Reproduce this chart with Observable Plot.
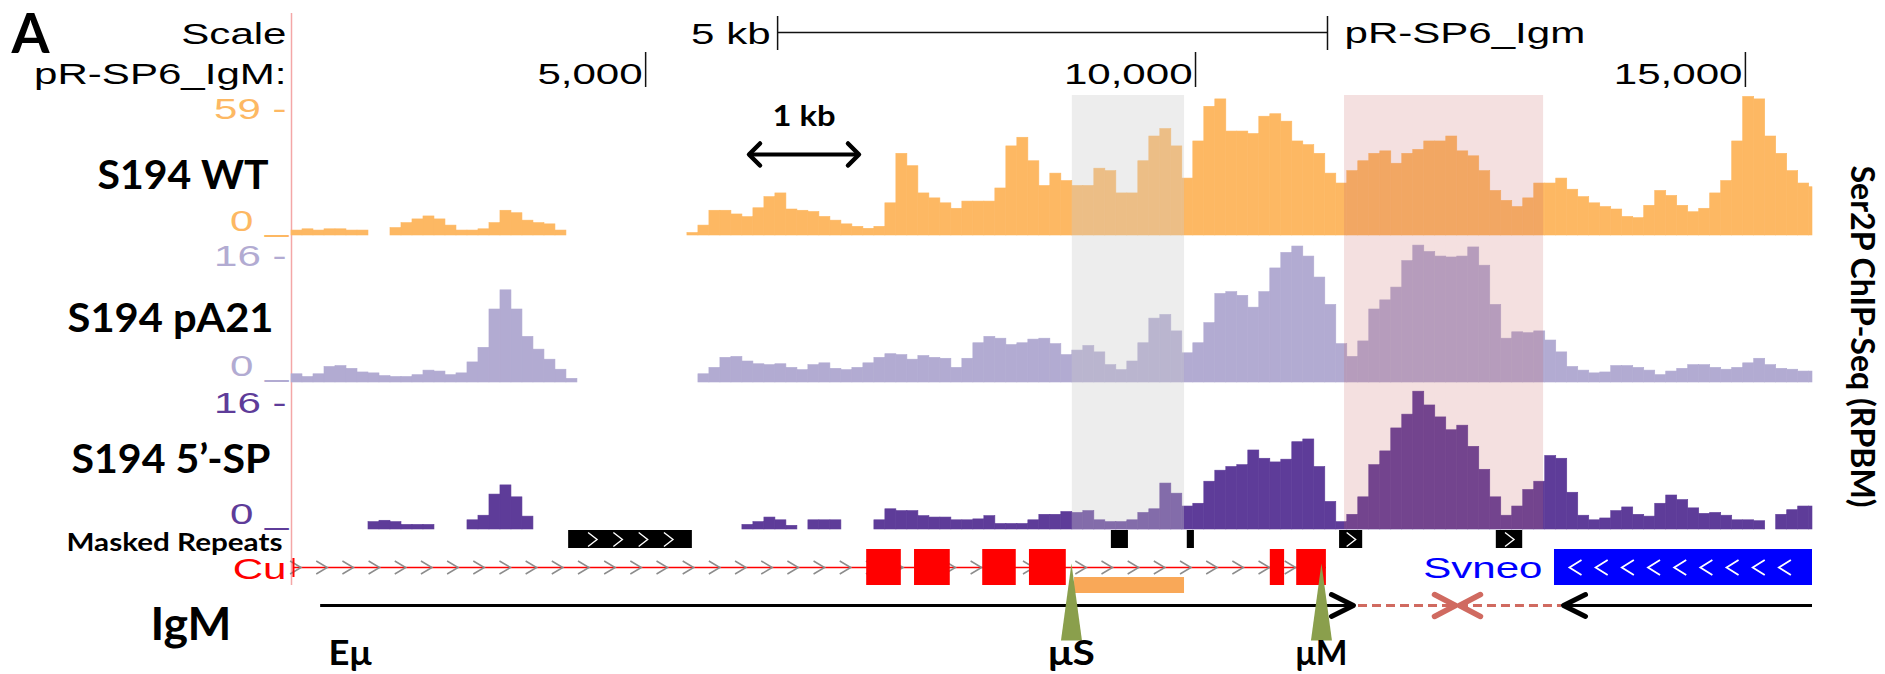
<!DOCTYPE html>
<html>
<head>
<meta charset="utf-8">
<script src="https://cdn.jsdelivr.net/npm/d3@7"></script>
<script src="https://cdn.jsdelivr.net/npm/@observablehq/plot@0.6"></script>
<style>
  html, body { margin: 0; padding: 0; background: #fff; }
  #figure { position: relative; width: 1885px; height: 674px; overflow: hidden; background: #fff; }
  #figure .layer { position: absolute; left: 0; }
  #figure svg { display: block; overflow: visible; }
</style>
</head>
<body>
<div id="figure"></div>
<script>
// ---- view on pR-SP6_IgM (bp) ----
const viewStart = 1780;
const viewEnd = 15610;
const binStart = 1780;
const binSize = 100;

// Ser2P ChIP-Seq signal (RPBM), one value per 100-bp bin; null = no coverage
const wtSignal = [
  2, 2.5, 2, 2.5, 2.5, 2, 2, null, null, 3,
  5, 6.5, 7.7, 6.5, 4, 2, 2, 2.5, 5, 10,
  9, 6, 5, 4.5, 2, null, null, null, null, null,
  null, null, null, null, null, null, 1, 4, 10, 10,
  8.5, 7.4, 11, 15.5, 17, 10.5, 10, 9.5, 7.5, 6,
  4.5, 3.5, 2.7, 3.5, 13, 33, 28, 17, 15, 13,
  10.8, 13.7, 13.7, 13.7, 19, 36, 39.5, 30, 20, 25,
  22, 20, 20, 27, 26, 17, 17, 30, 40, 43,
  36, 23, 38, 52, 55, 42, 42, 41, 48, 49,
  46, 38, 36.5, 33, 25, 21, 26, 30, 33, 34,
  29, 33, 34.6, 38, 38, 40, 34, 32, 26, 18,
  14, 11.5, 15, 21, 21, 23, 18.5, 15.5, 13, 11.5,
  10.5, 7.5, 7, 12, 18, 16, 12, 9.4, 10.8, 17,
  22, 38, 56, 55, 40, 33, 26, 21, 19.5
];
const pa21Signal = [
  0.9, 0.6, 0.9, 1.7, 1.8, 1.5, 1.1, 1.0, 0.7, 0.6,
  0.6, 0.8, 1.3, 1.2, 0.8, 1.0, 2.2, 3.8, 8, 10.1,
  8, 5, 3.6, 2.5, 1.4, 0.4, null, null, null, null,
  null, null, null, null, null, null, null, 0.9, 1.6, 2.7,
  2.8, 2.3, 2.0, 1.9, 2.0, 1.6, 1.35, 1.9, 2.1, 1.5,
  1.35, 1.6, 2.1, 2.7, 3.1, 3.0, 2.5, 2.9, 2.7, 2.6,
  1.6, 2.6, 4.3, 5.0, 4.8, 4.1, 4.3, 4.7, 4.8, 4.2,
  3.0, 3.5, 4.0, 3.3, 1.9, 1.35, 2.3, 4.3, 7.0, 7.4,
  5.6, 3.2, 4.3, 6.5, 9.7, 9.9, 9.5, 8.2, 9.9, 12.5,
  14.2, 14.9, 13.8, 11.5, 8.5, 4.2, 2.8, 4.5, 8, 9.0,
  10.4, 13.3, 15, 14.3, 13.8, 13.7, 13.8, 14.8, 12.8, 8.5,
  4.8, 5.5, 5.4, 5.6, 4.6, 3.3, 1.7, 1.3, 1.0, 1.1,
  1.8, 1.8, 1.6, 1.3, 0.8, 1.2, 1.5, 1.9, 1.9, 1.6,
  1.4, 1.6, 2.1, 2.6, 1.9, 1.5, 1.4, 1.2, 1.2
];
const spSignal = [
  null, null, null, null, null, null, null, 0.8, 0.95, 0.8,
  0.5, 0.5, 0.5, null, null, null, 1.0, 1.5, 3.8, 4.8,
  3.5, 1.4, null, null, null, null, null, null, null, null,
  null, null, null, null, null, null, null, null, null, null,
  null, 0.5, 0.8, 1.3, 1.0, 0.4, null, 1.0, 1.0, 1.0,
  null, null, null, 1.0, 2.2, 2.0, 2.0, 1.45, 1.3, 1.3,
  1.0, 1.0, 1.1, 1.45, 0.6, 0.6, 0.6, 1.0, 1.6, 1.6,
  1.9, 1.8, 2.0, 1.0, 0.8, 0.8, 1.0, 1.8, 2.2, 5.0,
  3.9, 2.5, 2.8, 5.2, 6.4, 6.8, 7.0, 8.6, 7.7, 7.3,
  7.6, 9.5, 9.8, 6.8, 3, 0.8, 1.6, 3.5, 7.0, 8.5,
  11, 12.5, 15, 13.5, 12.2, 10.8, 11.3, 9, 6.5, 3.5,
  1.5, 2.5, 4.3, 5.2, 8, 7.7, 4.0, 1.5, 1.0, 1.2,
  2.0, 2.4, 1.6, 1.4, 2.8, 3.7, 3.2, 2.3, 1.7, 1.8,
  1.5, 1.0, 1.0, 0.9, null, 1.6, 2.1, 2.5, 2.5
];
const trackNames = ["S194 WT", "S194 pA21", "S194 5\u2019-SP"];
const trackMax = [59, 16, 16];

// ruler and scale bar
const rulerTicks = [5000, 10000, 15000];
const rulerLabels = ["5,000", "10,000", "15,000"];
const scaleBar = [6200, 11200];
const oneKbBar = [5940, 6940];

// masked repeats
const repeatStarts = [4300, 9235, 9925, 11310, 12735];
const repeatEnds = [5425, 9390, 9990, 11520, 12975];

// Cu gene model and Svneo cassette
const cuSpan = [1798, 11190];
const cuExonStarts = [7010, 7445, 8065, 8490, 10680, 10920];
const cuExonEnds = [7325, 7770, 8370, 8825, 10810, 11190];
const svneoSpan = [13264, 15610];
const switchRegion = [8900, 9900];

// highlighted windows
const greyWindow = [8880, 9900];
const pinkWindow = [11355, 13165];

// IgM transcription arrows, poly(A) sites, enhancer
const igmForward = [2045, 11436];
const dashedForward = [11482, 12364];
const dashedReverse = [12400, 13328];
const igmReverse = [13346, 15610];
const polyASites = [8872, 11145];
const polyALabels = ["\u03bcS", "\u03bcM"];
const enhancerPos = 2116;

// ---- layout ----
const W = 1885, H = 674, LEFT = 291, RIGHT = 1812;
const ORANGE = "#fdb863", LILAC = "#b2abd2", PURPLE = "#5e3c99";
const UCSC_FONT = "'Liberation Sans', Arial, Helvetica, sans-serif";
const BOLD_FONT = "Lato, 'Liberation Sans', Arial, sans-serif";
const tracks = [
  {values: wtSignal, max: trackMax[0], color: ORANGE, top: 89, height: 146},
  {values: pa21Signal, max: trackMax[1], color: LILAC, top: 236, height: 146},
  {values: spSignal, max: trackMax[2], color: PURPLE, top: 382, height: 147}
];

// ---- symbols ----
// open chevron whose tip sits on the anchor point (dir 1 = ">", -1 = "<")
const tipChevron = (dir, len, half) => ({draw(ctx) {
  ctx.moveTo(-dir * len, -half); ctx.lineTo(0, 0); ctx.lineTo(-dir * len, half);
}});
// strand mark centred on the anchor point
const strandChevron = (dir, len, half) => ({draw(ctx) {
  ctx.moveTo(-dir * len / 2, -half); ctx.lineTo(dir * len / 2, 0); ctx.lineTo(-dir * len / 2, half);
}});
// tall poly(A) wedge with its tip on the anchor point
const wedge = (w, h) => ({draw(ctx) {
  ctx.moveTo(0, 0); ctx.lineTo(-w / 2, h); ctx.lineTo(w / 2, h); ctx.closePath();
}});

const strandStep = 238;
const geneChevrons = d3.range(1817, cuSpan[1] - 60, strandStep);
const svneoChevrons = d3.range(13455, svneoSpan[1] - 150, strandStep);
const repeatChevrons = repeatStarts.flatMap((s, i) => {
  const e = repeatEnds[i], n = Math.floor((e - s + 50) / 250), c = (s + e) / 2;
  return d3.range(n).map(k => c + (k - (n - 1) / 2) * 230);
});

// ---- text labels ----
const labelSpecs = [];
function label(text, o) {
  labelSpecs.push(o);
  const opt = {
    text: d => d,
    y: o.y,
    lineAnchor: "bottom",
    textAnchor: o.anchor || "start",
    fontSize: o.size,
    fontWeight: o.weight || "normal",
    fontFamily: o.family || (o.weight ? BOLD_FONT : UCSC_FONT),
    fill: o.fill || "#000"
  };
  if (o.bp != null) { opt.x = o.bp; opt.dx = o.dx || 0; }
  else { opt.frameAnchor = "left"; opt.dx = o.px - LEFT; }
  if (o.rotate) opt.rotate = o.rotate;
  return Plot.text([text], opt);
}
const UC = 29, ST = 1.45;
const textMarks = [
  label("A", {px: 11, y: 52, size: 55, weight: 700, width: 38}),
  label("Scale", {px: 286, anchor: "end", y: 43, size: UC, stretch: ST}),
  label("pR-SP6_IgM:", {px: 286, anchor: "end", y: 83, size: UC, stretch: ST}),
  label("5 kb", {bp: scaleBar[0], dx: -7, anchor: "end", y: 43, size: UC, stretch: ST}),
  label("pR-SP6_Igm", {bp: scaleBar[1], dx: 17, y: 42, size: UC, stretch: ST}),
  ...rulerTicks.map((t, i) => label(rulerLabels[i], {bp: t, dx: -3, anchor: "end", y: 83, size: UC, stretch: ST})),
  label(trackMax[0] + " -", {px: 286, anchor: "end", y: 118, size: UC, fill: ORANGE, stretch: ST}),
  label("0 _", {px: 288, anchor: "end", y: 230, size: UC, fill: ORANGE, stretch: ST}),
  label(trackMax[1] + " -", {px: 286, anchor: "end", y: 265, size: UC, fill: LILAC, stretch: ST}),
  label("0 _", {px: 288, anchor: "end", y: 375, size: UC, fill: LILAC, stretch: ST}),
  label(trackMax[2] + " -", {px: 286, anchor: "end", y: 412, size: UC, fill: PURPLE, stretch: ST}),
  label("0 _", {px: 288, anchor: "end", y: 523, size: UC, fill: PURPLE, stretch: ST}),
  label("1 kb", {bp: (oneKbBar[0] + oneKbBar[1]) / 2, anchor: "middle", y: 125, size: 29, weight: 700, width: 63}),
  label(trackNames[0], {px: 268, anchor: "end", y: 188, size: 41, weight: 700, width: 171}),
  label(trackNames[1], {px: 273, anchor: "end", y: 331, size: 41, weight: 700, width: 206}),
  label(trackNames[2], {px: 270, anchor: "end", y: 472, size: 40, weight: 700, width: 199}),
  label("Masked Repeats", {px: 282, anchor: "end", y: 550, size: 25, weight: 700, width: 216}),
  label("Cu", {px: 286, anchor: "end", y: 578, size: UC, fill: "#ff0000", stretch: ST}),
  label("Svneo", {bp: svneoSpan[0], dx: -12, anchor: "end", y: 577, size: UC, fill: "#0000ff", stretch: ST}),
  label("IgM", {px: 150, y: 639, size: 46, weight: 700, width: 81}),
  label("E\u03bc", {bp: enhancerPos, y: 664, size: 35, weight: 700, width: 43}),
  ...polyASites.map((p, i) => label(polyALabels[i], {bp: p, anchor: "middle", y: 664, size: 35, weight: 700, width: i ? 52 : 47})),
  label("Ser2P ChIP-Seq (RPBM)", {px: 1850, anchor: "middle", y: 336, size: 33, weight: 700, rotate: 90, width: 342})
];

// ---- frame: ruler, annotation rows, labels ----
const frameOptions = {
  width: W, height: H, marginLeft: LEFT, marginRight: W - RIGHT, marginTop: 0, marginBottom: 0,
  x: {domain: [viewStart, viewEnd], axis: null},
  y: {type: "identity", axis: null}
};
const SALMON = "#d06a60", GREEN = "#8a9f4c";
const roundHead = {fill: "none", strokeLinecap: "round", strokeLinejoin: "round"};
const frame = Plot.plot({
  ...frameOptions,
  marks: [
    Plot.ruleX([viewStart], {y1: 13, y2: 585, stroke: "#f4a7a7", strokeWidth: 1.5}),
    // scale bar and ruler
    Plot.ruleY([32], {x1: scaleBar[0], x2: scaleBar[1], stroke: "#111", strokeWidth: 1.3}),
    Plot.ruleX(scaleBar, {y1: 16, y2: 50, stroke: "#111", strokeWidth: 1.5}),
    Plot.ruleX(rulerTicks, {y1: 52, y2: 87, stroke: "#111", strokeWidth: 1.5}),
    // 1 kb reference arrow
    Plot.ruleY([154], {x1: oneKbBar[0], x2: oneKbBar[1], stroke: "#000", strokeWidth: 4}),
    Plot.dot([oneKbBar[0]], {x: d => d, y: 154, symbol: tipChevron(-1, 11, 11), stroke: "#000", strokeWidth: 4.5, ...roundHead}),
    Plot.dot([oneKbBar[1]], {x: d => d, y: 154, symbol: tipChevron(1, 11, 11), stroke: "#000", strokeWidth: 4.5, ...roundHead}),
    // masked repeats
    Plot.rect(repeatStarts, {x1: d => d, x2: (d, i) => repeatEnds[i], y1: 530, y2: 548, fill: "#000"}),
    Plot.dot(repeatChevrons, {x: d => d, y: 539, symbol: strandChevron(1, 9, 7), fill: "none", stroke: "#fff", strokeWidth: 1.4}),
    // Cu gene model
    Plot.ruleY([567], {x1: cuSpan[0], x2: cuSpan[1], stroke: "#ff0000", strokeWidth: 1.5}),
    Plot.dot(geneChevrons, {x: d => d, y: 567, symbol: strandChevron(1, 11, 6.5), fill: "none", stroke: "#8c8c8c", strokeWidth: 1.5}),
    Plot.ruleX([cuSpan[0]], {y1: 558, y2: 577, stroke: "#ff0000", strokeWidth: 2}),
    Plot.rect(cuExonStarts, {x1: d => d, x2: (d, i) => cuExonEnds[i], y1: 549, y2: 585, fill: "#ff0000"}),
    Plot.rect([switchRegion], {x1: d => d[0], x2: d => d[1], y1: 577, y2: 593, fill: "#f9a858"}),
    // Svneo cassette
    Plot.rect([svneoSpan], {x1: d => d[0], x2: d => d[1], y1: 549, y2: 585, fill: "#0000ff"}),
    Plot.dot(svneoChevrons, {x: d => d, y: 567, symbol: strandChevron(-1, 12, 7.5), fill: "none", stroke: "#fff", strokeWidth: 1.8}),
    // IgM transcription
    Plot.ruleY([igmForward, igmReverse], {y: 605, x1: d => d[0], x2: d => d[1], stroke: "#000", strokeWidth: 3}),
    Plot.ruleY([dashedForward, dashedReverse], {y: 605, x1: d => d[0], x2: d => d[1], stroke: SALMON, strokeWidth: 3, strokeDasharray: "9,5"}),
    Plot.dot([igmForward[1]], {x: d => d, y: 605, symbol: tipChevron(1, 22, 11), stroke: "#000", strokeWidth: 5, ...roundHead}),
    Plot.dot([igmReverse[0]], {x: d => d, y: 605, symbol: tipChevron(-1, 22, 11), stroke: "#000", strokeWidth: 5, ...roundHead}),
    Plot.dot([dashedForward[1]], {x: d => d, y: 605, symbol: tipChevron(1, 21, 11), stroke: SALMON, strokeWidth: 5.5, ...roundHead}),
    Plot.dot([dashedReverse[0]], {x: d => d, y: 605, symbol: tipChevron(-1, 21, 11), stroke: SALMON, strokeWidth: 5.5, ...roundHead}),
    Plot.dot(polyASites, {x: d => d, y: 563, symbol: wedge(21, 77), fill: GREEN, stroke: "none"}),
    ...textMarks
  ]
});

// ---- signal tracks ----
function bins(values) {
  return values
    .map((v, i) => ({start: binStart + i * binSize, end: Math.min(binStart + (i + 1) * binSize, viewEnd), v}))
    .filter(d => d.v != null);
}
function trackPlot(t) {
  return Plot.plot({
    width: W, height: t.height, marginLeft: LEFT, marginRight: W - RIGHT, marginTop: 0, marginBottom: 0,
    x: {domain: [viewStart, viewEnd], axis: null},
    y: {domain: [0, t.max], axis: null},
    marks: [
      Plot.rect(bins(t.values), {x1: "start", x2: "end", y1: 0, y2: "v", fill: t.color, stroke: t.color, strokeWidth: 0.6})
    ]
  });
}

// ---- highlighted windows across the three tracks ----
const overlay = Plot.plot({
  ...frameOptions,
  marks: [
    Plot.rect([greyWindow], {x1: d => d[0], x2: d => d[1], y1: 95, y2: 529, fill: "rgb(203,203,203)", fillOpacity: 0.34}),
    Plot.rect([pinkWindow], {x1: d => d[0], x2: d => d[1], y1: 95, y2: 529, fill: "rgb(200,100,100)", fillOpacity: 0.2})
  ]
});

const fig = document.getElementById("figure");
function addLayer(svg, top) {
  const div = document.createElement("div");
  div.className = "layer";
  div.style.top = top + "px";
  div.appendChild(svg);
  fig.appendChild(div);
}
addLayer(frame, 0);
tracks.forEach(t => addLayer(trackPlot(t), t.top));
addLayer(overlay, 0);

// stretch labels to their drawn widths
const textGroups = frame.querySelectorAll('g[aria-label="text"]');
labelSpecs.forEach((spec, i) => {
  const g = textGroups[i];
  if (!g) return;
  g.querySelectorAll("text").forEach(t => {
    const w = spec.width != null ? spec.width : t.getComputedTextLength() * (spec.stretch || 1);
    t.setAttribute("textLength", w);
    t.setAttribute("lengthAdjust", "spacingAndGlyphs");
  });
});
</script>
</body>
</html>
